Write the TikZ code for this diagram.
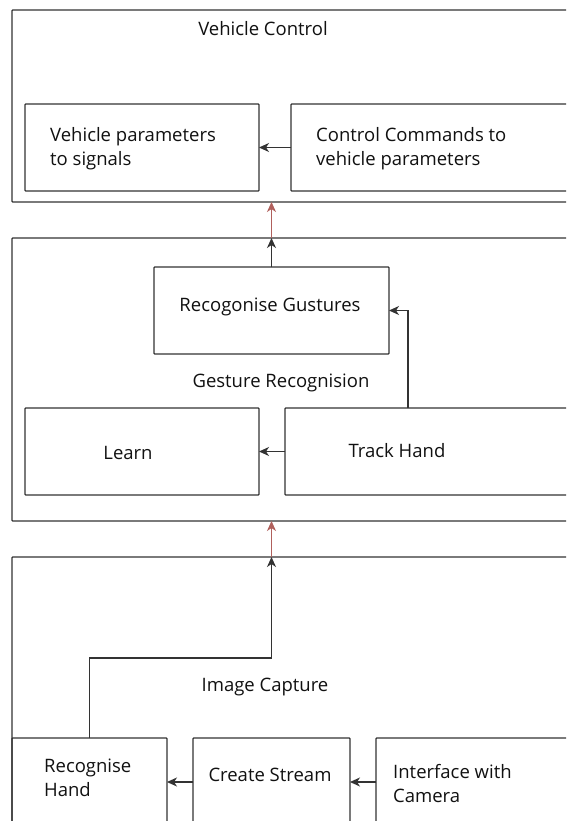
\documentclass[tikz,border=0pt]{standalone}
\usepackage{fontspec}
\setmainfont{Open Sans}
\usetikzlibrary{arrows.meta}
\definecolor{ln}{HTML}{333333}
\definecolor{tx}{HTML}{111111}
\definecolor{rd}{HTML}{B0605C}
\begin{document}
\begin{tikzpicture}[x=1pt,y=-1pt,
  box/.style={draw=ln,line width=1.3pt,rounded corners=0.8pt,anchor=north west,inner sep=0pt,outer sep=0pt},
  lbl/.style={text=tx,font=\fontsize{18.5}{24}\selectfont,inner sep=0pt},
  arr/.style={draw=ln,line width=1.3pt,-{Stealth[length=10pt,width=9pt,inset=3pt]}},
  rarr/.style={draw=rd,line width=1.1pt,-{Stealth[length=10pt,width=9pt,inset=3pt]}}]
\useasboundingbox (0,0) rectangle (566,821);
\clip (0,0) rectangle (566,821);
\fill[white] (0,0) rectangle (566,821);
% Vehicle Control
\node[box,minimum width=608,minimum height=192] (vc) at (12,10) {};
\node[box,minimum width=234,minimum height=87] (vp) at (25,104) {};
\node[box,minimum width=329,minimum height=87] (cc) at (291,104) {};
% Gesture Recognition
\node[box,minimum width=608,minimum height=283] (gr) at (12,238) {};
\node[box,minimum width=235,minimum height=87] (rg) at (154,267) {};
\node[box,minimum width=234,minimum height=87] (learn) at (25,408) {};
\node[box,minimum width=335,minimum height=87] (th) at (285,408) {};
% Image Capture
\node[box,minimum width=608,minimum height=343] (ic) at (12,557) {};
\node[box,minimum width=155,minimum height=162] (rh) at (12,738) {};
\node[box,minimum width=157,minimum height=162] (cs) at (193,738) {};
\node[box,minimum width=244,minimum height=162] (iwc) at (376,738) {};
% texts
\node[lbl] (tvc) at (263,29) {Vehicle Control};
\node[lbl,anchor=west,align=left] (tvp) at (50,149) {Vehicle parameters\\to signals};
\node[lbl,anchor=west,align=left] (tcc) at (316,149) {Control Commands to\\vehicle parameters};
\node[lbl] (trg) at (270,307) {Recogonise Gustures};
\node[lbl] (tgr) at (281,383) {Gesture Recognision};
\node[lbl] (tle) at (128,453) {Learn};
\node[lbl] (tth) at (397,451) {Track Hand};
\node[lbl] (tic) at (265,687) {Image Capture};
\node[lbl,anchor=west,align=left] (trh) at (44,778) {Recognise\\Hand};
\node[lbl] (tcs) at (270,775) {Create Stream};
\node[lbl,anchor=west,align=left] (tiwc) at (393,784) {Interface with\\Camera};
% connectors
\draw[arr] (cc.west) -- (vp.east);
\draw[arr] (th.west) -- (learn.east);
\draw[arr] ([xshift=123pt]th.north west) |- (rg.east);
\draw[arr] (rg.north) -- (rg.north |- gr.north);
\draw[rarr] (rg.north |- gr.north) -- (rg.north |- vc.south);
\draw[arr] (rh.north) -- ++(0,-80) -| (rg.north |- ic.north);
\draw[rarr] (rg.north |- ic.north) -- (rg.north |- gr.south);
\draw[arr] ([yshift=-44pt]cs.north west) -- ([yshift=-44pt]rh.north east);
\draw[arr] ([yshift=-44pt]iwc.north west) -- ([yshift=-44pt]cs.north east);
\end{tikzpicture}
\end{document}
